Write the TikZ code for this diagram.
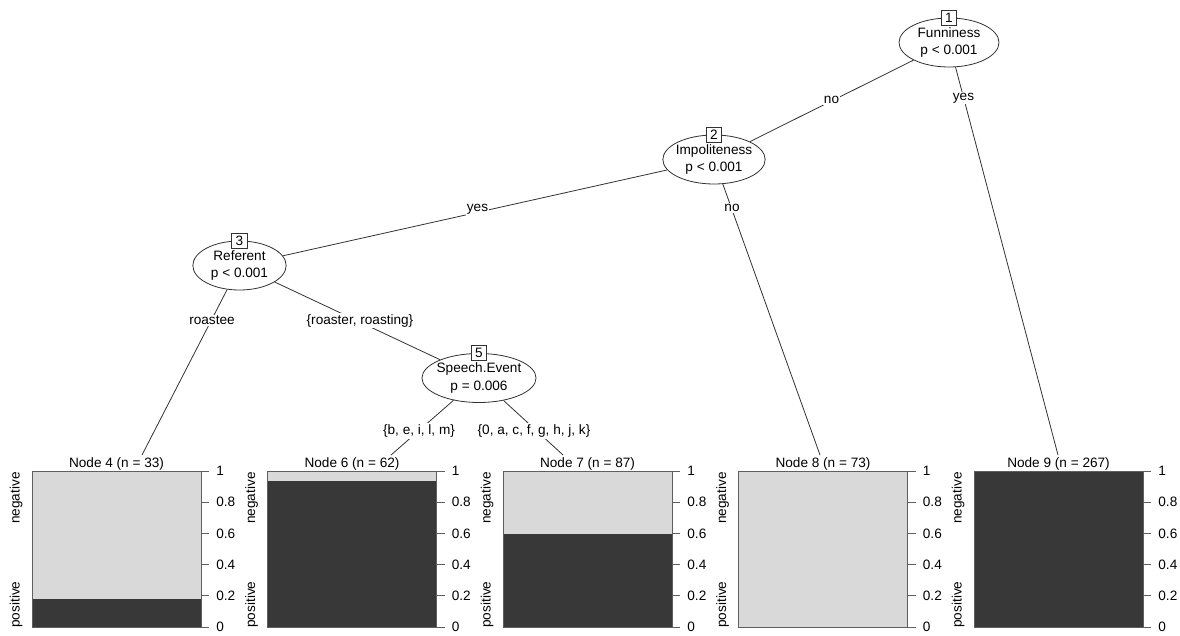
\documentclass[tikz,border=0pt]{standalone}
\usepackage{fontspec}
\setmainfont{Liberation Sans}
\usepackage{xcolor}
\usetikzlibrary{shapes.geometric, math}
\definecolor{bardark}{RGB}{56,56,56}
\definecolor{barlight}{RGB}{217,217,217}
\definecolor{linegray}{RGB}{50,50,50}
\definecolor{boxgray}{RGB}{95,95,95}

\tikzset{
splitnode/.style={ellipse, draw=linegray, fill=white, inner xsep=-1.5pt, inner ysep=0pt, minimum height=36.75pt, align=center},
idbox/.style={draw=linegray, fill=white, inner sep=0pt, minimum size=11.5pt},
edge/.style={draw=linegray},
edgelabel/.style={fill=white, inner sep=1pt},
boxline/.style={draw=boxgray},
ticklabel/.style={anchor=west, inner sep=0pt},
classlabel/.style={rotate=90, inner sep=0pt},
}

\begin{document}
\begin{tikzpicture}[x=0.75pt, y=-0.75pt, line width=0.6pt, font=\fontsize{10.2}{12.8}\selectfont]
\tikzmath{
\boxw=169; \boxh=156; \boxtop=474;
}
\useasboundingbox (0,3) rectangle (1180,638);

% inner nodes
\node[splitnode, minimum width=75pt] (n1) at (949,45.5) {Funniness\\p < 0.001};
\node[splitnode, minimum width=76.5pt] (n2) at (714,162.5) {Impoliteness\\p < 0.001};
\node[splitnode, minimum width=70pt] (n3) at (239.5,268.5) {Referent\\p < 0.001};
\node[splitnode, minimum width=77pt] (n5) at (479,381) {Speech.Event\\p = 0.006};

\node[idbox] (id1) at (n1.north) {1};
\node[idbox] (id2) at (n2.north) {2};
\node[idbox] (id3) at (n3.north) {3};
\node[idbox] (id5) at (n5.north) {5};

% terminal panels
\foreach \leaf/\xl/\cnt/\share in {4/32/33/0.182, 6/267.5/62/0.935, 7/503/87/0.598, 8/738.5/73/0, 9/974/267/1}{
  \fill[barlight] (\xl,\boxtop) rectangle ++(\boxw,\boxh);
  \fill[bardark] (\xl,\boxtop+\boxh) rectangle ++(\boxw,-\share*\boxh);
  \draw[boxline] (\xl,\boxtop) rectangle ++(\boxw,\boxh);
  \node (t\leaf) at (\xl+\boxw/2,467) {Node \leaf{} (n = \cnt)};
  \node[classlabel, anchor=east] (neg\leaf) at (\xl-16,\boxtop+1) {negative};
  \node[classlabel, anchor=west] (pos\leaf) at (\xl-16,\boxtop+\boxh+1) {positive};
  \foreach \v [count=\i] in {0,0.2,0.4,0.6,0.8,1}{
    \draw[boxline] (\xl+\boxw,{\boxtop+\boxh-\v*\boxh}) -- ++(8,0);
    \node[ticklabel] (tk\leaf\i) at (\xl+\boxw+15,{\boxtop+\boxh-\v*\boxh}) {\v};
  }
}

% edge ends at the panel titles
\coordinate (e4) at (142,458);
\coordinate (e6) at (391,458);
\coordinate (e7) at (563,458);
\coordinate (e8) at (820,458);
\coordinate (e9) at (1058,458);

\draw[edge] (n1) -- (n2);
\draw[edge] (n1) -- (e9);
\draw[edge] (n2) -- (n3);
\draw[edge] (n2) -- (e8);
\draw[edge] (n3) -- (e4);
\draw[edge] (n3) -- (n5);
\draw[edge] (n5) -- (e6);
\draw[edge] (n5) -- (e7);

\node[edgelabel] (l12) at (831.5,102.5) {no};
\node[edgelabel] (l19) at (963.5,101) {yes};
\node[edgelabel] (l23) at (477.5,212.5) {yes};
\node[edgelabel] (l28) at (732,211) {no};
\node[edgelabel] (l34) at (212,323.5) {roastee};
\node[edgelabel] (l35) at (360,323.5) {\{roaster, roasting\}};
\node[edgelabel] (l56) at (419,434) {\{b, e, i, l, m\}};
\node[edgelabel] (l57) at (534,434) {\{0, a, c, f, g, h, j, k\}};

\end{tikzpicture}
\end{document}
